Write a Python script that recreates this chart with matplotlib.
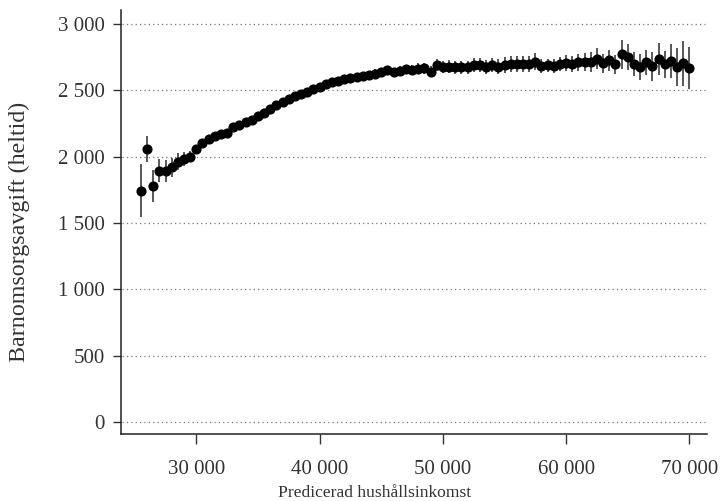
import matplotlib
matplotlib.use("Agg")
import matplotlib.pyplot as plt
import numpy as np

plt.rcParams['font.family'] = ['Liberation Serif', 'DejaVu Serif']

# predicted household income (bins of 500)
income = np.arange(25500, 70001, 500)

# mean childcare fee (full time)
fee = [1744, 2059, 1780, 1895, 1895, 1921, 1963, 1983, 2001, 2057,
       2106, 2132, 2157, 2172, 2182, 2227, 2240, 2265, 2278, 2305,
       2330, 2360, 2390, 2415, 2435, 2455, 2475, 2492, 2510, 2528,
       2552, 2563, 2572, 2584, 2594, 2604, 2612, 2620, 2628, 2638,
       2652, 2640, 2649, 2660, 2652, 2664, 2667, 2642, 2692, 2675,
       2680, 2675, 2675, 2675, 2692, 2692, 2680, 2692, 2680, 2692,
       2700, 2700, 2700, 2700, 2717, 2684, 2689, 2684, 2701, 2707,
       2697, 2714, 2714, 2714, 2739, 2705, 2727, 2697, 2772, 2752,
       2701, 2677, 2714, 2684, 2739, 2697, 2722, 2679, 2705, 2671]

# half-width of confidence interval
ci = [200, 100, 120, 87, 82, 72, 65, 50, 40, 35,
      30, 30, 28, 28, 28, 28, 28, 28, 28, 28,
      28, 28, 28, 28, 28, 28, 28, 28, 28, 30,
      30, 30, 30, 30, 30, 30, 30, 30, 32, 32,
      32, 32, 34, 36, 38, 40, 40, 42, 45, 45,
      48, 48, 48, 50, 50, 52, 52, 55, 55, 58,
      58, 60, 60, 62, 65, 55, 50, 55, 55, 60,
      60, 65, 70, 75, 80, 70, 80, 70, 110, 100,
      90, 100, 95, 110, 120, 100, 130, 145, 170, 160]

yticks = [0, 500, 1000, 1500, 2000, 2500, 3000]
xticks = [30000, 40000, 50000, 60000, 70000]


def fmt(v):
    return f"{v:,}".replace(",", " ")


fig = plt.figure(figsize=(7.21, 5.01), dpi=100)
ax = fig.add_axes([0.168, 0.134, 0.813, 0.846])

for y in yticks:
    ax.axhline(y, xmin=0.002, xmax=0.996, color='#777777', lw=0.9,
               linestyle=(0, (1, 2.5)), zorder=0)

ax.errorbar(income, fee, yerr=ci, fmt='none', ecolor='#4a4a4a',
            elinewidth=1.3, zorder=2)
ax.plot(income, fee, 'o', color='black', markersize=6.3, zorder=3)

ax.set_xlim(23900, 71450)
ax.set_ylim(-90, 3107)

ax.set_yticks(yticks)
ax.set_yticklabels([fmt(v) for v in yticks], fontsize=15, color='#333333')
ax.set_xticks(xticks)
ax.set_xticklabels([fmt(v) for v in xticks], fontsize=15, color='#333333')

ax.tick_params(axis='y', length=6, width=1, pad=6, colors='#333333')
ax.tick_params(axis='x', length=7, width=1, pad=12, colors='#333333')

for s in ['top', 'right']:
    ax.spines[s].set_visible(False)
for s in ['left', 'bottom']:
    ax.spines[s].set_linewidth(1.1)
    ax.spines[s].set_color('#222222')

ax.set_xlabel('Predicerad hushållsinkomst', fontsize=12.6, color='#333333')
ax.xaxis.set_label_coords(0.432, -0.12)
ax.set_ylabel('Barnomsorgsavgift (heltid)', fontsize=17.3, color='#333333')
ax.yaxis.set_label_coords(-0.155, 0.476)

fig.savefig('out.png', dpi=100)
